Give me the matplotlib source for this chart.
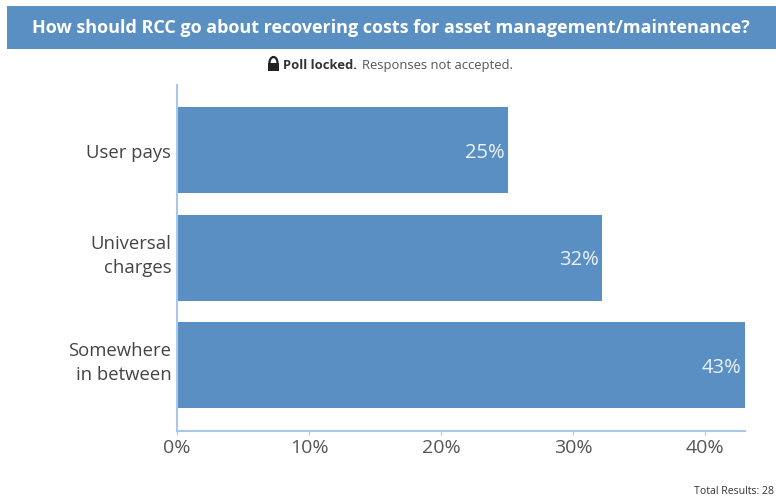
import matplotlib
matplotlib.use('Agg')
import matplotlib.pyplot as plt
from matplotlib.patches import Rectangle, FancyBboxPatch, Arc
from matplotlib.transforms import ScaledTranslation

W, H = 776, 502

categories = ['User pays', 'Universal\ncharges', 'Somewhere\nin between']
values = [25.05, 32.2, 43]
value_labels = ['25%', '32%', '43%']
xticks = [0, 10, 20, 30, 40]
xtick_labels = ['0%', '10%', '20%', '30%', '40%']

title = 'How should RCC go about recovering costs for asset management/maintenance?'
blue = '#5a8fc3'
axis_blue = '#a9c7e6'
grey = '#555555'

plt.rcParams['font.family'] = ['Open Sans', 'DejaVu Sans']


def fx(px):
    return px / W


def fy(py):
    return 1 - py / H


fig = plt.figure(figsize=(7.76, 5.02), dpi=100)

# header band
fig.patches.append(Rectangle((fx(7), fy(50)), fx(769), 43 / H, transform=fig.transFigure,
                             facecolor=blue, edgecolor='none'))
fig.text(fx(390.5), fy(28.5), title, color='white', fontsize=12.95, fontweight='bold',
         ha='center', va='center')

# lock icon
fig.patches.append(FancyBboxPatch((fx(268), fy(72)), 11 / W, 8 / H, transform=fig.transFigure,
                                  boxstyle='square,pad=0', facecolor='#222222', edgecolor='none'))
fig.patches.append(Arc((fx(273.5), fy(64)), 8 / W, 12 / H, theta1=0, theta2=180,
                       transform=fig.transFigure, color='#222222', lw=1.6))
fig.text(fx(283), fy(65.5), 'Poll locked.', color='#333333', fontsize=9.4, fontweight='bold',
         ha='left', va='center')
fig.text(fx(362), fy(65.5), 'Responses not accepted.', color=grey, fontsize=9.4,
         ha='left', va='center')

# chart
ax = fig.add_axes([fx(177), fy(432), 568 / W, 346 / H])
y = range(len(categories))
ax.barh(y, values, height=0.8, color=blue)
for i in y:
    ax.text(values[i] - 0.25, i + 0.015, value_labels[i], color='#eef3f9', fontsize=14.5,
            ha='right', va='center')

ax.set_xlim(0, 43)
ax.set_ylim(2.614, -0.605)
ax.set_xticks(xticks)
ax.set_xticklabels(xtick_labels, fontsize=14, color=grey)
ax.set_yticks(list(y))
ax.set_yticklabels(categories, fontsize=13.3, color='#444444', linespacing=1.45)
ax.tick_params(axis='x', length=3, color=axis_blue, pad=2)
ax.tick_params(axis='y', length=0, pad=4)

# two line labels sit a bit high of the bar centre
for lab in ax.get_yticklabels()[1:]:
    lab.set_transform(lab.get_transform() + ScaledTranslation(0, 8 / 100, fig.dpi_scale_trans))

for s in ['top', 'right']:
    ax.spines[s].set_visible(False)
for s in ['left', 'bottom']:
    ax.spines[s].set_color(axis_blue)
    ax.spines[s].set_linewidth(1.5)

fig.text(fx(694), fy(492), 'Total Results: 28', color='#333333', fontsize=7.6,
         ha='left', va='center')

plt.savefig('out.png', dpi=100)
